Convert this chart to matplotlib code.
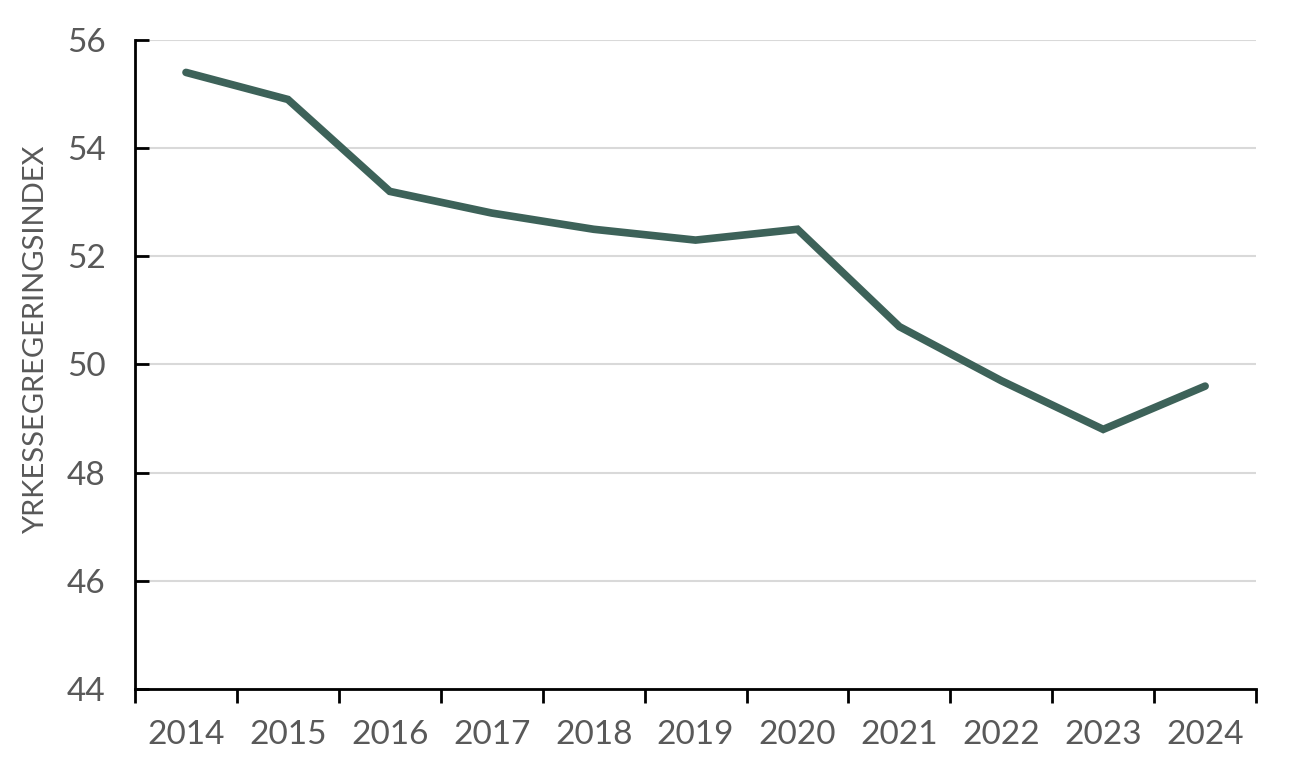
import matplotlib.pyplot as plt
import numpy as np

# data
years = ["2014", "2015", "2016", "2017", "2018", "2019",
         "2020", "2021", "2022", "2023", "2024"]
index_values = [55.4, 54.9, 53.2, 52.8, 52.5, 52.3, 52.5, 50.7, 49.7, 48.8, 49.6]
y_ticks = [44, 46, 48, 50, 52, 54, 56]

plt.rcParams['font.family'] = ['Lato', 'DejaVu Sans']

fig = plt.figure(figsize=(12.96, 7.76), dpi=100)
ax = fig.add_axes([0.1042, 0.1121, 0.8650, 0.8364])

x = np.arange(len(years))
ax.plot(x, index_values, color='#3d6259', linewidth=5.5, solid_capstyle='round',
        solid_joinstyle='miter', zorder=3)

ax.set_xlim(-0.5, len(years) - 0.5)
ax.set_ylim(44, 56)
ax.set_yticks(y_ticks)
ax.grid(axis='y', color='#d9d9d9', linewidth=1.5, zorder=0)

# category axis: ticks between the years, labels at centers
ax.set_xticks(np.arange(-0.5, len(years), 1.0))
ax.set_xticklabels([])
ax.set_xticks(x, minor=True)
ax.set_xticklabels(years, minor=True)
ax.tick_params(axis='x', which='major', direction='out', length=10, width=2, color='black')
ax.tick_params(axis='x', which='minor', length=0, pad=22, labelsize=24, labelcolor='#595959')
ax.tick_params(axis='y', direction='in', length=10, width=2, color='black',
               pad=21, labelsize=24, labelcolor='#595959')

for side in ['top', 'right']:
    ax.spines[side].set_visible(False)
for side in ['left', 'bottom']:
    ax.spines[side].set_linewidth(2)
    ax.spines[side].set_color('black')

ax.set_ylabel("YRKESSEGREGERINGSINDEX", fontsize=21, color='#595959')
ax.yaxis.set_label_coords(-0.077, 0.538)

fig.savefig("out.png", dpi=100)
